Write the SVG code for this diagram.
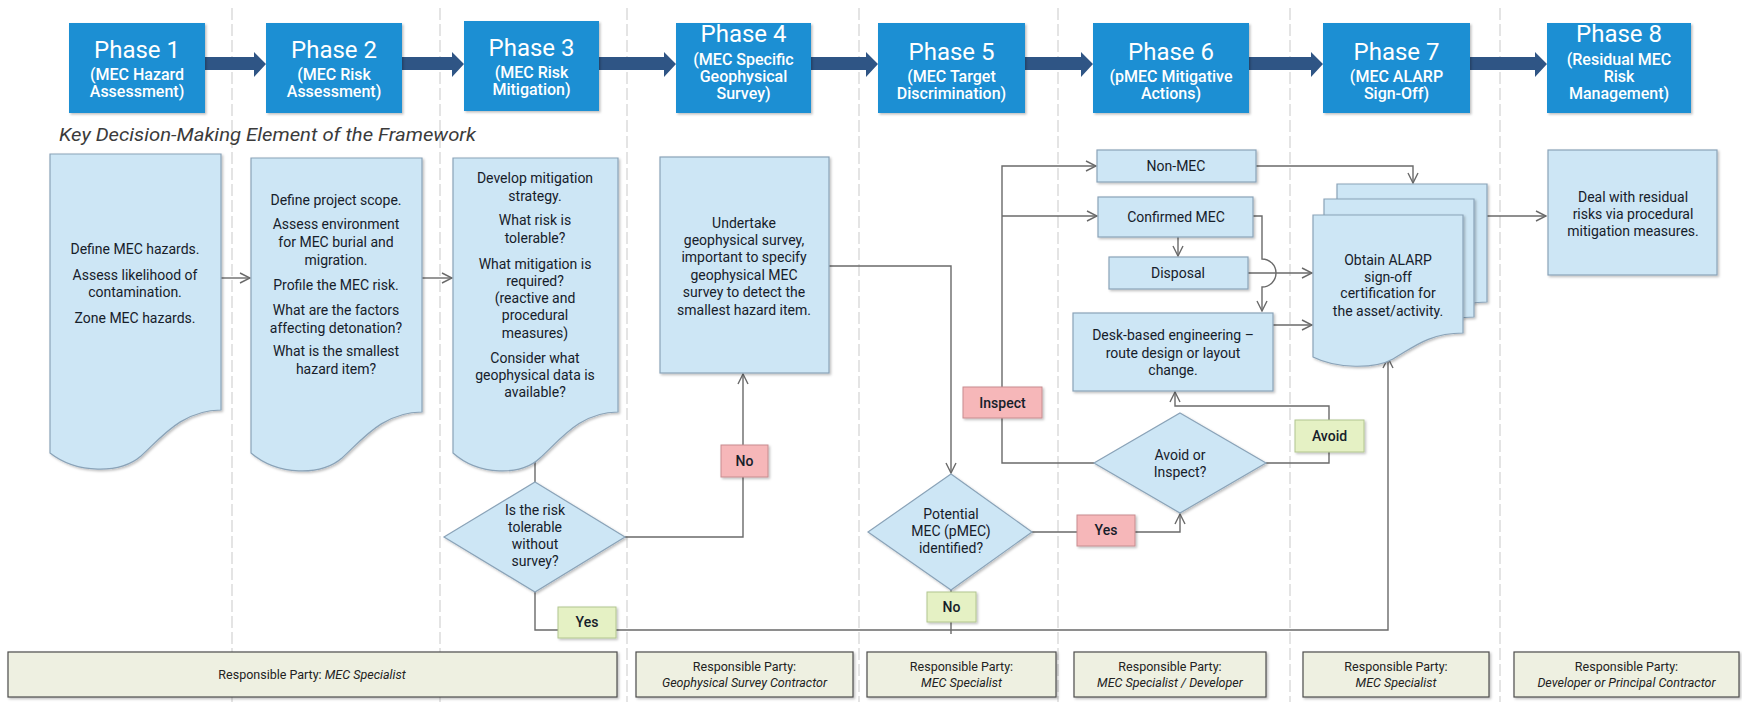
<svg xmlns="http://www.w3.org/2000/svg" width="1742" height="702" viewBox="0 0 1742 702">
<defs>
<style>
.bg{fill:#ffffff}
.dash{stroke:#c9c9c9;stroke-width:1;stroke-dasharray:12 4;fill:none}
.phase{fill:#1a8fd3}
.parrow{fill:#2f5585}
.pt{font-family:Roboto,"Liberation Sans",sans-serif;font-weight:400;font-size:24px;fill:#ffffff;text-anchor:middle}
.ps{font-family:Roboto,"Liberation Sans",sans-serif;font-weight:500;font-size:16px;fill:#ffffff;text-anchor:middle}
.proc{fill:#cde6f5;stroke:#8aa3b8;stroke-width:1.2}
.t{font-family:Roboto,"Liberation Sans",sans-serif;font-weight:400;font-size:14px;fill:#16202a;text-anchor:middle}
.lt{font-family:Roboto,"Liberation Sans",sans-serif;font-weight:500;font-size:14px;fill:#16202a;text-anchor:middle}
.red{fill:#f6b7b9;stroke:#c78c8f;stroke-width:1}
.green{fill:#e5f1c4;stroke:#b2c58f;stroke-width:1}
.resp{fill:#eef0e1;stroke:#4d4d4d;stroke-width:1.2}
.rp{font-family:Roboto,"Liberation Sans",sans-serif;font-size:12.5px;fill:#222222;text-anchor:middle}
.it{font-style:italic}
.key{font-family:Roboto,"Liberation Sans",sans-serif;font-style:italic;font-weight:400;font-size:19px;fill:#3b3b3b}
.conn{fill:none;stroke:#6a6a6a;stroke-width:1.4}
</style>
<marker id="ah" markerUnits="userSpaceOnUse" markerWidth="12" markerHeight="12" viewBox="0 0 12 12" refX="11" refY="6" orient="auto">
<path d="M1,1 L11,6 L1,11" fill="none" stroke="#6a6a6a" stroke-width="1.4"/>
</marker>
<filter id="sh" x="-10%" y="-10%" width="130%" height="130%">
<feDropShadow dx="1.5" dy="1.5" stdDeviation="1" flood-color="#000000" flood-opacity="0.25"/>
</filter>
</defs>
<rect class="bg" x="0" y="0" width="1742" height="702"/>

<g id="swimlanes">
<line class="dash" x1="232" y1="8" x2="232" y2="702"/>
<line class="dash" x1="440" y1="8" x2="440" y2="702"/>
<line class="dash" x1="627" y1="8" x2="627" y2="702"/>
<line class="dash" x1="859" y1="8" x2="859" y2="702"/>
<line class="dash" x1="1058" y1="8" x2="1058" y2="702"/>
<line class="dash" x1="1290" y1="8" x2="1290" y2="702"/>
<line class="dash" x1="1500" y1="8" x2="1500" y2="702"/>
</g>

<g id="phase-arrows">
<path class="parrow" d="M205,57 H254 V52 L266,64 L254,77 V70 H205 Z"/>
<path class="parrow" d="M402,57 H452 V52 L464,64 L452,77 V70 H402 Z"/>
<path class="parrow" d="M599,57 H664 V52 L676,64 L664,77 V70 H599 Z"/>
<path class="parrow" d="M811,57 H866 V52 L878,64 L866,77 V70 H811 Z"/>
<path class="parrow" d="M1025,57 H1081 V52 L1093,64 L1081,77 V70 H1025 Z"/>
<path class="parrow" d="M1249,57 H1311 V52 L1323,64 L1311,77 V70 H1249 Z"/>
<path class="parrow" d="M1470,57 H1535 V52 L1547,64 L1535,77 V70 H1470 Z"/>
</g>

<g id="phase1"><rect class="phase" x="69" y="23" width="136" height="90" filter="url(#sh)"/>
<text class="pt" x="137" y="58">Phase 1</text><text class="ps" x="137" y="80">(MEC Hazard</text><text class="ps" x="137" y="97">Assessment)</text></g>
<g id="phase2"><rect class="phase" x="266" y="23" width="136" height="90" filter="url(#sh)"/>
<text class="pt" x="334" y="58">Phase 2</text><text class="ps" x="334" y="80">(MEC Risk</text><text class="ps" x="334" y="97">Assessment)</text></g>
<g id="phase3"><rect class="phase" x="464" y="21" width="135" height="90" filter="url(#sh)"/>
<text class="pt" x="531.5" y="56">Phase 3</text><text class="ps" x="531.5" y="78">(MEC Risk</text><text class="ps" x="531.5" y="95">Mitigation)</text></g>
<g id="phase4"><rect class="phase" x="676" y="23" width="135" height="90" filter="url(#sh)"/>
<text class="pt" x="743.5" y="42">Phase 4</text><text class="ps" x="743.5" y="65">(MEC Specific</text><text class="ps" x="743.5" y="82">Geophysical</text><text class="ps" x="743.5" y="99">Survey)</text></g>
<g id="phase5"><rect class="phase" x="878" y="23" width="147" height="90" filter="url(#sh)"/>
<text class="pt" x="951.5" y="60">Phase 5</text><text class="ps" x="951.5" y="82">(MEC Target</text><text class="ps" x="951.5" y="99">Discrimination)</text></g>
<g id="phase6"><rect class="phase" x="1093" y="23" width="156" height="90" filter="url(#sh)"/>
<text class="pt" x="1171" y="60">Phase 6</text><text class="ps" x="1171" y="82">(pMEC Mitigative</text><text class="ps" x="1171" y="99">Actions)</text></g>
<g id="phase7"><rect class="phase" x="1323" y="23" width="147" height="90" filter="url(#sh)"/>
<text class="pt" x="1396.5" y="60">Phase 7</text><text class="ps" x="1396.5" y="82">(MEC ALARP</text><text class="ps" x="1396.5" y="99">Sign-Off)</text></g>
<g id="phase8"><rect class="phase" x="1547" y="23" width="144" height="90" filter="url(#sh)"/>
<text class="pt" x="1619" y="42">Phase 8</text><text class="ps" x="1619" y="65">(Residual MEC</text><text class="ps" x="1619" y="82">Risk</text><text class="ps" x="1619" y="99">Management)</text></g>

<text id="key-title" class="key" x="59" y="141" textLength="417" lengthAdjust="spacingAndGlyphs">Key Decision-Making Element of the Framework</text>

<g id="connectors">
<path class="conn" d="M221,278 H250" marker-end="url(#ah)"/>
<path class="conn" d="M422,278 H452" marker-end="url(#ah)"/>
<path class="conn" d="M535,462 V482"/>
<path class="conn" d="M625,537 H743 V374" marker-end="url(#ah)"/>
<path class="conn" d="M535,592 V630 H1388 V358" marker-end="url(#ah)"/>
<path class="conn" d="M829,266 H951 V473" marker-end="url(#ah)"/>
<path class="conn" d="M951,590 V634"/>
<path class="conn" d="M1032,532 H1180 V514" marker-end="url(#ah)"/>
<path class="conn" d="M1094,463 H1002 V166 H1096" marker-end="url(#ah)"/>
<path class="conn" d="M1002,216 H1097" marker-end="url(#ah)"/>
<path class="conn" d="M1266,463 H1329 V406 H1175 V392" marker-end="url(#ah)"/>
<path class="conn" d="M1256,166 H1413 V183" marker-end="url(#ah)"/>
<path class="conn" d="M1178,237 V256" marker-end="url(#ah)"/>
<path class="conn" d="M1253,216 H1262 V259 A14,14 0 0 1 1262,287 V311" marker-end="url(#ah)"/>
<path class="conn" d="M1248,273 H1312" marker-end="url(#ah)"/>
<path class="conn" d="M1273,325 H1312" marker-end="url(#ah)"/>
<path class="conn" d="M1487,216 H1546" marker-end="url(#ah)"/>
</g>

<g id="box1"><path class="proc" filter="url(#sh)" d="M50,154 H221 V410 C182,410 161,438 141,456 C120,474 77,474 50,453 Z"/>
<text class="t" x="135" y="254">Define MEC hazards.</text>
<text class="t" x="135" y="280">Assess likelihood of</text>
<text class="t" x="135" y="297">contamination.</text>
<text class="t" x="135" y="323">Zone MEC hazards.</text></g>

<g id="box2"><path class="proc" filter="url(#sh)" d="M251,158 H422 V412 C383,412 362,440 342,458 C321,476 278,476 251,453 Z"/>
<text class="t" x="336" y="205">Define project scope.</text>
<text class="t" x="336" y="229">Assess environment</text>
<text class="t" x="336" y="247">for MEC burial and</text>
<text class="t" x="336" y="265">migration.</text>
<text class="t" x="336" y="290">Profile the MEC risk.</text>
<text class="t" x="336" y="315">What are the factors</text>
<text class="t" x="336" y="333">affecting detonation?</text>
<text class="t" x="336" y="356">What is the smallest</text>
<text class="t" x="336" y="374">hazard item?</text></g>

<g id="box3"><path class="proc" filter="url(#sh)" d="M453,158 H618 V412 C580,412 560,440 540,458 C521,476 479,476 453,453 Z"/>
<text class="t" x="535" y="183">Develop mitigation</text>
<text class="t" x="535" y="201">strategy.</text>
<text class="t" x="535" y="225">What risk is</text>
<text class="t" x="535" y="243">tolerable?</text>
<text class="t" x="535" y="269">What mitigation is</text>
<text class="t" x="535" y="286">required?</text>
<text class="t" x="535" y="303">(reactive and</text>
<text class="t" x="535" y="320">procedural</text>
<text class="t" x="535" y="338">measures)</text>
<text class="t" x="535" y="363">Consider what</text>
<text class="t" x="535" y="380">geophysical data is</text>
<text class="t" x="535" y="397">available?</text></g>

<g id="decision1"><path class="proc" filter="url(#sh)" d="M535,482 L625,537 L535,592 L444,537 Z"/>
<text class="t" x="535" y="515">Is the risk</text>
<text class="t" x="535" y="532">tolerable</text>
<text class="t" x="535" y="549">without</text>
<text class="t" x="535" y="566">survey?</text></g>

<g id="box4"><rect class="proc" filter="url(#sh)" x="660" y="157" width="169" height="216"/>
<text class="t" x="744" y="228">Undertake</text>
<text class="t" x="744" y="245">geophysical survey,</text>
<text class="t" x="744" y="262">important to specify</text>
<text class="t" x="744" y="280">geophysical MEC</text>
<text class="t" x="744" y="297">survey to detect the</text>
<text class="t" x="744" y="315">smallest hazard item.</text></g>

<g id="decision2"><path class="proc" filter="url(#sh)" d="M951,474 L1032,532 L951,590 L868,532 Z"/>
<text class="t" x="951" y="519">Potential</text>
<text class="t" x="951" y="536">MEC (pMEC)</text>
<text class="t" x="951" y="553">identified?</text></g>

<g id="decision3"><path class="proc" filter="url(#sh)" d="M1180,413 L1266,463 L1180,513 L1094,463 Z"/>
<text class="t" x="1180" y="460">Avoid or</text>
<text class="t" x="1180" y="477">Inspect?</text></g>

<g id="non-mec"><rect class="proc" filter="url(#sh)" x="1097" y="150" width="159" height="32"/>
<text class="t" x="1176" y="171">Non-MEC</text></g>
<g id="confirmed-mec"><rect class="proc" filter="url(#sh)" x="1098" y="197" width="155" height="40"/>
<text class="t" x="1176" y="222">Confirmed MEC</text></g>
<g id="disposal"><rect class="proc" filter="url(#sh)" x="1109" y="257" width="139" height="32"/>
<text class="t" x="1178" y="278">Disposal</text></g>
<g id="desk-based"><rect class="proc" filter="url(#sh)" x="1073" y="313" width="200" height="78"/>
<text class="t" x="1173" y="340">Desk-based engineering –</text>
<text class="t" x="1173" y="358">route design or layout</text>
<text class="t" x="1173" y="375">change.</text></g>

<g id="alarp-stack">
<path class="proc" filter="url(#sh)" d="M1337,184 H1487 V302 C1452,302 1435,318 1417,328 C1399,338 1361,338 1337,326 Z"/>
<path class="proc" filter="url(#sh)" d="M1324,199 H1474 V317 C1439,317 1422,333 1404,343 C1386,353 1348,353 1324,341 Z"/>
<path class="proc" filter="url(#sh)" d="M1313,215 H1463 V333 C1428,333 1411,349 1393,359 C1375,369 1337,369 1313,357 Z"/>
<text class="t" x="1388" y="265">Obtain ALARP</text>
<text class="t" x="1388" y="282">sign-off</text>
<text class="t" x="1388" y="298">certification for</text>
<text class="t" x="1388" y="316">the asset/activity.</text></g>

<g id="box8"><rect class="proc" filter="url(#sh)" x="1548" y="150" width="169" height="125"/>
<text class="t" x="1633" y="202">Deal with residual</text>
<text class="t" x="1633" y="219">risks via procedural</text>
<text class="t" x="1633" y="236">mitigation measures.</text></g>

<g id="label-no1"><rect class="red" filter="url(#sh)" x="721" y="445" width="47" height="32"/><text class="lt" x="744.5" y="466">No</text></g>
<g id="label-yes1"><rect class="green" filter="url(#sh)" x="558" y="607" width="58" height="31"/><text class="lt" x="587" y="627">Yes</text></g>
<g id="label-no2"><rect class="green" filter="url(#sh)" x="927" y="592" width="49" height="30"/><text class="lt" x="951.5" y="612">No</text></g>
<g id="label-yes2"><rect class="red" filter="url(#sh)" x="1077" y="515" width="58" height="31"/><text class="lt" x="1106" y="535">Yes</text></g>
<g id="label-inspect"><rect class="red" filter="url(#sh)" x="963" y="387" width="79" height="31"/><text class="lt" x="1002.5" y="408">Inspect</text></g>
<g id="label-avoid"><rect class="green" filter="url(#sh)" x="1295" y="420" width="69" height="32"/><text class="lt" x="1329.5" y="441">Avoid</text></g>

<g id="resp1"><rect class="resp" filter="url(#sh)" x="8" y="652" width="609" height="45"/>
<text class="rp" x="312" y="679">Responsible Party: <tspan class="it">MEC Specialist</tspan></text></g>
<g id="resp4"><rect class="resp" filter="url(#sh)" x="636" y="652" width="217" height="45"/>
<text class="rp" x="744.5" y="671">Responsible Party:</text><text class="rp it" x="744.5" y="687">Geophysical Survey Contractor</text></g>
<g id="resp5"><rect class="resp" filter="url(#sh)" x="867" y="652" width="189" height="45"/>
<text class="rp" x="961.5" y="671">Responsible Party:</text><text class="rp it" x="961.5" y="687">MEC Specialist</text></g>
<g id="resp6"><rect class="resp" filter="url(#sh)" x="1074" y="652" width="192" height="45"/>
<text class="rp" x="1170" y="671">Responsible Party:</text><text class="rp it" x="1170" y="687">MEC Specialist / Developer</text></g>
<g id="resp7"><rect class="resp" filter="url(#sh)" x="1303" y="652" width="186" height="45"/>
<text class="rp" x="1396" y="671">Responsible Party:</text><text class="rp it" x="1396" y="687">MEC Specialist</text></g>
<g id="resp8"><rect class="resp" filter="url(#sh)" x="1514" y="652" width="225" height="45"/>
<text class="rp" x="1626.5" y="671">Responsible Party:</text><text class="rp it" x="1626.5" y="687">Developer or Principal Contractor</text></g>
</svg>
